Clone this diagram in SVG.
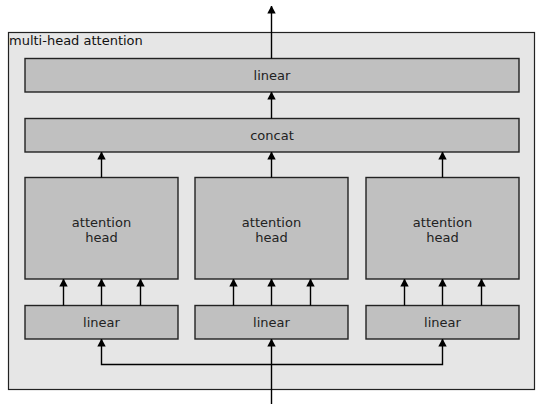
<svg xmlns="http://www.w3.org/2000/svg" width="536" height="404" viewBox="0 0 536 404">
  <style>
    .frame { fill: #e6e6e6; stroke: #222; stroke-width: 1.2; }
    .box { fill: #c0c0c0; stroke: #222; stroke-width: 1.4; }
    .lbl { font-family: "DejaVu Sans", sans-serif; font-size: 13px; fill: #222; text-anchor: middle; }
    .title { font-family: "DejaVu Sans", sans-serif; font-size: 13px; fill: #111; }
    .wire { fill: none; stroke: #000; stroke-width: 1.4; }
  </style>
  <defs>
    <marker id="arrow" viewBox="0 0 8 10" refX="7.5" refY="5" markerWidth="8" markerHeight="10" markerUnits="userSpaceOnUse" orient="auto">
      <path d="M0,0.8 L8,5 L0,9.2 Z" fill="#000"/>
    </marker>
  </defs>

  <g id="mha">
    <rect class="frame" x="8.5" y="32.5" width="526" height="357"/>
    <text class="title" x="9" y="45">multi-head attention</text>
  </g>

  <g id="linear-out">
    <rect class="box" x="25" y="58.5" width="494" height="33.5"/>
    <text class="lbl" x="272" y="80">linear</text>
  </g>
  <g id="concat">
    <rect class="box" x="25" y="118.5" width="494" height="33.5"/>
    <text class="lbl" x="272" y="140">concat</text>
  </g>

  <g id="head1">
    <rect class="box" x="25" y="177.5" width="153" height="101.5"/>
    <text class="lbl" x="101.5" y="227">attention</text>
    <text class="lbl" x="101.5" y="242">head</text>
  </g>
  <g id="head2">
    <rect class="box" x="195" y="177.5" width="153" height="101.5"/>
    <text class="lbl" x="271.5" y="227">attention</text>
    <text class="lbl" x="271.5" y="242">head</text>
  </g>
  <g id="head3">
    <rect class="box" x="366" y="177.5" width="153" height="101.5"/>
    <text class="lbl" x="442.5" y="227">attention</text>
    <text class="lbl" x="442.5" y="242">head</text>
  </g>

  <g id="linear1">
    <rect class="box" x="25" y="305.5" width="153" height="33.5"/>
    <text class="lbl" x="101.5" y="327">linear</text>
  </g>
  <g id="linear2">
    <rect class="box" x="195" y="305.5" width="153" height="33.5"/>
    <text class="lbl" x="271.5" y="327">linear</text>
  </g>
  <g id="linear3">
    <rect class="box" x="366" y="305.5" width="153" height="33.5"/>
    <text class="lbl" x="442.5" y="327">linear</text>
  </g>

  <g id="connectors">
    <!-- output -->
    <path class="wire" d="M271.5,58.5 V6" marker-end="url(#arrow)"/>
    <!-- concat to linear -->
    <path class="wire" d="M271.5,118.5 V92" marker-end="url(#arrow)"/>
    <!-- heads to concat -->
    <path class="wire" d="M101.5,177.5 V152" marker-end="url(#arrow)"/>
    <path class="wire" d="M271.5,177.5 V152" marker-end="url(#arrow)"/>
    <path class="wire" d="M442.5,177.5 V152" marker-end="url(#arrow)"/>
    <!-- linear projections to heads (q, k, v) -->
    <path class="wire" d="M63.5,305.5 V279" marker-end="url(#arrow)"/>
    <path class="wire" d="M101.5,305.5 V279" marker-end="url(#arrow)"/>
    <path class="wire" d="M140.5,305.5 V279" marker-end="url(#arrow)"/>
    <path class="wire" d="M233.5,305.5 V279" marker-end="url(#arrow)"/>
    <path class="wire" d="M271.5,305.5 V279" marker-end="url(#arrow)"/>
    <path class="wire" d="M310.5,305.5 V279" marker-end="url(#arrow)"/>
    <path class="wire" d="M404.5,305.5 V279" marker-end="url(#arrow)"/>
    <path class="wire" d="M442.5,305.5 V279" marker-end="url(#arrow)"/>
    <path class="wire" d="M481.5,305.5 V279" marker-end="url(#arrow)"/>
    <!-- input fan-out -->
    <path class="wire" d="M271.5,404 V339" marker-end="url(#arrow)"/>
    <path class="wire" d="M271.5,364.5 H101.5 V339" marker-end="url(#arrow)"/>
    <path class="wire" d="M271.5,364.5 H442.5 V339" marker-end="url(#arrow)"/>
  </g>
</svg>
